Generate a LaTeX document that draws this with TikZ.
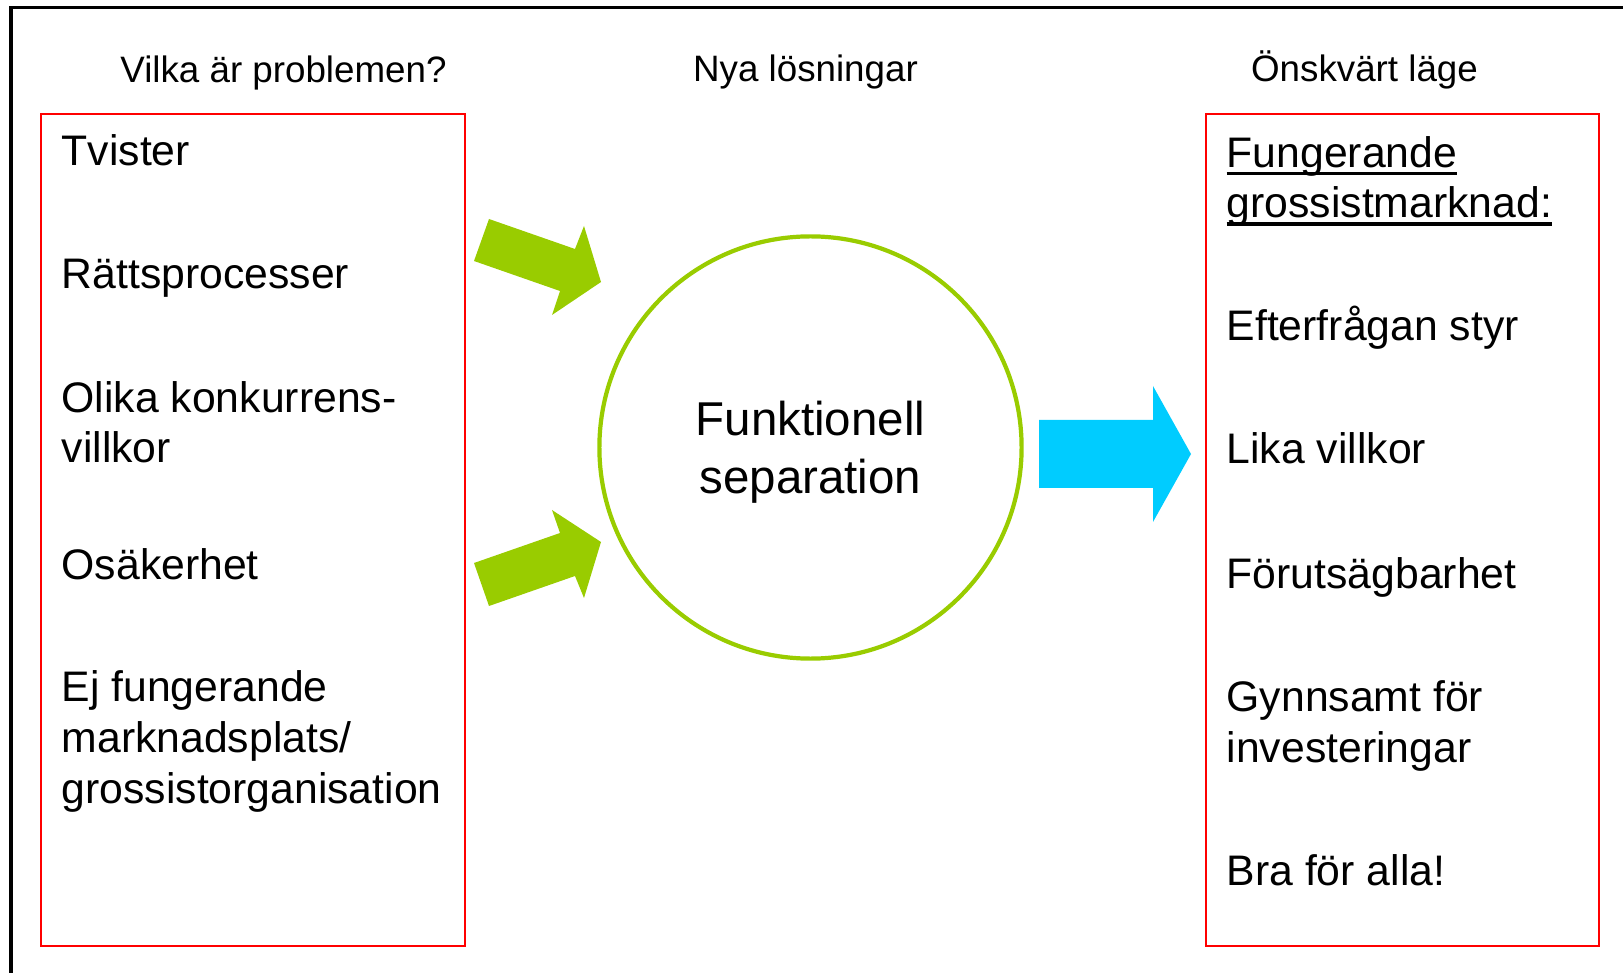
\documentclass[tikz,border=0pt]{standalone}
\usepackage{fontspec}
\setmainfont{Liberation Sans}
\usetikzlibrary{positioning}
\definecolor{limegreen}{HTML}{99CC00}
\definecolor{skyblue}{HTML}{00CCFF}
\newsavebox{\ulbox}
\newcommand{\ulword}[1]{\sbox{\ulbox}{#1}\rlap{\rule[-2.2pt]{\wd\ulbox}{1pt}}\usebox{\ulbox}}
\begin{document}
\begin{tikzpicture}[x=0.01cm, y=-0.01cm,
	heading/.style={anchor=base, inner sep=0, font=\fontsize{10.45}{12.5}\selectfont},
	item/.style={anchor=base west, inner sep=0, align=left, font=\fontsize{12.15}{14.37}\selectfont},
	listbox/.style={draw=red, line width=0.7pt}]
	\useasboundingbox (0, 0) rectangle (1623, 973);
	\draw[line width=0.95pt] (11, 973) -- (11, 7.7) -- (1623, 7.7);
	\node[heading] (problem) at (283.5, 83) {Vilka är problemen?};
	\node[heading] (nya) at (805.5, 82) {Nya lösningar};
	\node[heading] (onskat) at (1364.5, 82) {Önskvärt läge};
	\draw[listbox] (41, 114) rectangle (465, 946);
	\draw[listbox] (1206, 114) rectangle (1599, 946);
	\node[item] (tvister) at (61, 166) {Tvister};
	\node[item] (ratt) at (61, 289) {Rättsprocesser};
	\node[item] (olika) at (61, 463) {Olika konkurrens-\\villkor};
	\node[item] (osak) at (61, 580) {Osäkerhet};
	\node[item] (ej) at (61, 803) {Ej fungerande\\marknadsplats/\\grossistorganisation};
	\node[item] (fung) at (1226, 218) {\ulword{Fungerande}\\\ulword{grossistmarknad:}};
	\node[item] (efter) at (1226, 341) {Efterfrågan styr};
	\node[item] (lika) at (1226, 464) {Lika villkor};
	\node[item] (forut) at (1226, 588) {Förutsägbarhet};
	\node[item] (gynn) at (1226, 762) {Gynnsamt för\\investeringar};
	\node[item] (bra) at (1226, 885) {Bra för alla!};
	\fill[limegreen] (489, 219) -- (575, 249) -- (584, 226) -- (601, 282) -- (552, 315) -- (560, 291) -- (474, 261) --cycle;
	\fill[limegreen] (474, 563) -- (560, 533) -- (552, 510) -- (601, 542) -- (584, 598) -- (575, 576) -- (489, 606) --cycle;
	\node[circle, draw=limegreen, line width=1.2pt, minimum size=4.22cm, inner sep=0] (sep) at (810.5, 447.5) {};
	\node[align=center, font=\fontsize{13.5}{16.44}\selectfont] (septext) at ([yshift=-0.05cm]sep.center) {Funktionell\\separation};
	\fill[skyblue] (1039, 420) -- (1153, 420) -- (1153, 386) -- (1191, 454) -- (1153, 522) -- (1153, 488) -- (1039, 488) --cycle;
\end{tikzpicture}
\end{document}
